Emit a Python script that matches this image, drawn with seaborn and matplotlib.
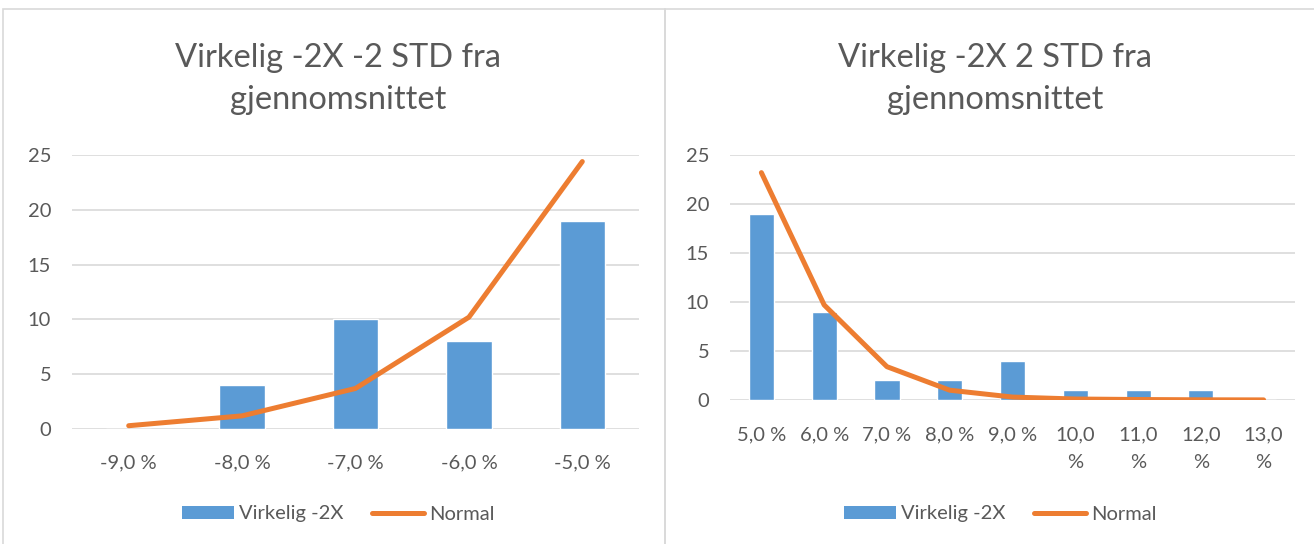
import numpy as np
import pandas as pd
import seaborn as sns
from matplotlib import pyplot as plt
from matplotlib.patches import Rectangle, Patch
from matplotlib.lines import Line2D

# left chart: -2 STD
left_labels = ['-9,0 %', '-8,0 %', '-7,0 %', '-6,0 %', '-5,0 %']
left_actual = [0, 4, 10, 8, 19]
left_normal = [0.3, 1.2, 3.7, 10.2, 24.4]

# right chart: +2 STD
right_labels = ['5,0 %', '6,0 %', '7,0 %', '8,0 %', '9,0 %', '10,0\n%', '11,0\n%', '12,0\n%', '13,0\n%']
right_actual = [19, 9, 2, 2, 4, 1, 1, 1, 0]
right_normal = [23.2, 9.7, 3.4, 1.0, 0.3, 0.1, 0.05, 0.02, 0.01]

titles = ['Virkelig -2X -2 STD fra\ngjennomsnittet', 'Virkelig -2X 2 STD fra\ngjennomsnittet']

BLUE = '#5B9BD5'
ORANGE = '#ED7D31'
GREY = '#595959'
GRID = '#D9D9D9'

sns.set_style('white')
plt.rcParams['font.family'] = ['Lato', 'DejaVu Sans']

W, H = 1314, 544
fig = plt.figure(figsize=(W / 100, H / 100), dpi=100)

def px_axes(x0, x1, ytop, ybot):
    return fig.add_axes([x0 / W, (H - ybot) / H, (x1 - x0) / W, (ybot - ytop) / H])

# panel frames
for x0, x1 in [(3, 665), (665, 1316)]:
    fig.patches.append(Rectangle((x0 / W, -0.01), (x1 - x0) / W, (H - 9) / H + 0.01,
                                 transform=fig.transFigure, fill=False,
                                 edgecolor=GRID, linewidth=1.2))

def draw(ax, labels, actual, normal, title, title_x):
    df = pd.DataFrame({'cat': labels, 'actual': actual})
    sns.barplot(data=df, x='cat', y='actual', color=BLUE, width=0.4,
                saturation=1, ax=ax, zorder=2)
    sns.lineplot(x=np.arange(len(normal)), y=normal, color=ORANGE, linewidth=3.6,
                 ax=ax, zorder=3, solid_capstyle='round')
    ax.set_ylim(0, 25)
    ax.set_xlim(-0.5, len(labels) - 0.5)
    ax.set_yticks(range(0, 26, 5))
    ax.yaxis.grid(True, color=GRID, linewidth=1.2, zorder=0)
    ax.set_axisbelow(True)
    for s in ax.spines.values():
        s.set_visible(False)
    ax.set_xlabel('')
    ax.set_ylabel('')
    ax.tick_params(axis='both', length=0, labelsize=14.5, labelcolor=GREY)
    ax.tick_params(axis='x', pad=18)
    ax.tick_params(axis='y', pad=15)
    fig.text(title_x / W, 1 - 43 / H, title, ha='center', va='top', fontsize=23.5,
             color=GREY, linespacing=1.5)

ax1 = px_axes(72, 639, 155, 429)
draw(ax1, left_labels, left_actual, left_normal, titles[0], 338)
ax2 = px_axes(730, 1295, 155, 400)
draw(ax2, right_labels, right_actual, right_normal, titles[1], 995)
ax2.tick_params(axis='x', pad=19)
for t in ax2.get_xticklabels():
    t.set_linespacing(1.75)

handles = [Patch(facecolor=BLUE, edgecolor='none'),
           Line2D([0], [0], color=ORANGE, linewidth=3.6, solid_capstyle='round')]
names = ['Virkelig -2X', 'Normal']
for cx in [338, 1000]:
    fig.legend(handles, names, loc='center', bbox_to_anchor=(cx / W, 1 - 514 / H),
               ncol=2, frameon=False, fontsize=14.5, labelcolor=GREY,
               handlelength=2.6, handleheight=0.6, handletextpad=0.25, columnspacing=1.4)

fig.savefig('out.png', dpi=100)
